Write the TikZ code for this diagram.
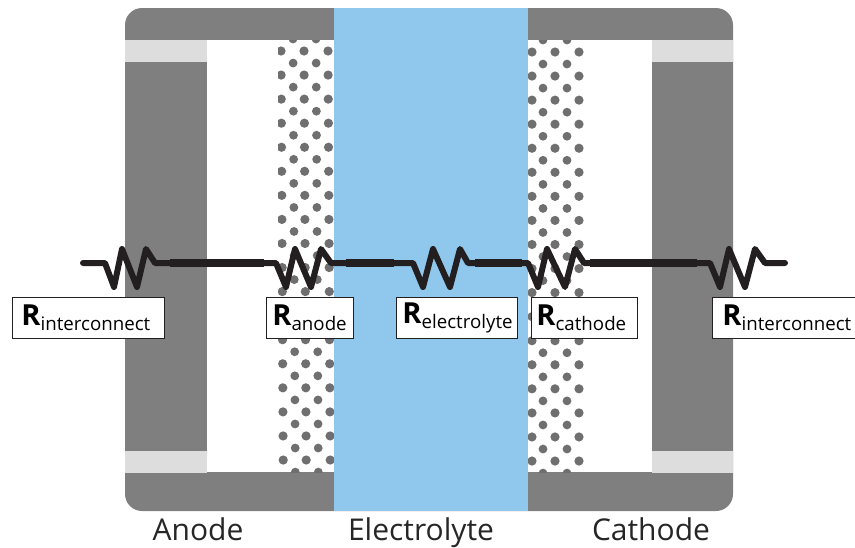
\documentclass[tikz,border=0pt]{standalone}
\usepackage{fontspec}
\setmainfont{Open Sans}
\definecolor{pillar}{HTML}{7F7F7F}
\definecolor{capgrey}{HTML}{DDDDDD}
\definecolor{elec}{HTML}{8FC8EC}
\definecolor{dotgrey}{HTML}{6F6F6F}
\definecolor{wire}{HTML}{231F20}
\tikzset{
  thin wire/.style={draw=wire,line width=6pt,line join=round,line cap=round},
  thick wire/.style={draw=wire,line width=7.5pt},
  rbox/.style={draw=wire,line width=0.9pt,fill=white,inner sep=0pt,minimum height=41pt,anchor=west},
  caption/.style={font=\fontsize{30}{30}\selectfont,text=black!85,anchor=base},
}
\newcommand{\Rlabel}[3]{\makebox[#1][l]{\hspace*{#2}\raisebox{0pt}{\fontsize{29}{29}\selectfont\bfseries R}\raisebox{-5pt}{\fontsize{18.7}{18.7}\selectfont #3}}}
\begin{document}
\begin{tikzpicture}[x=1pt,y=-1pt]
\useasboundingbox (0,0) rectangle (855,547);
% body
\fill[pillar,rounded corners=17pt] (125,8) rectangle (733,511);
\fill[white] (207,40) rectangle (652,472);
\fill[capgrey] (125,40) rectangle (207,62);
\fill[capgrey] (125,451) rectangle (207,473);
\fill[capgrey] (652,40) rectangle (733,62);
\fill[capgrey] (652,451) rectangle (733,473);
% porous electrodes
\begin{scope}
\clip (278,40) rectangle (334,472);
\foreach \k in {0,...,18}{
  \pgfmathsetmacro{\ya}{39+24.06*\k}
  \pgfmathsetmacro{\yb}{51+24.06*\k}
  \pgfmathsetmacro{\sh}{0.13*\k}
  \foreach \c in {293,316}{\fill[dotgrey] (\c+\sh,\ya) circle (4.4pt);}
  \foreach \c in {281,304,328}{\fill[dotgrey] (\c+\sh,\yb) circle (4.6pt);}
}
\end{scope}
\begin{scope}
\clip (528,40) rectangle (590,472);
\foreach \k in {0,...,18}{
  \pgfmathsetmacro{\ya}{40+24.06*\k}
  \pgfmathsetmacro{\yb}{52+24.06*\k}
  \foreach \c in {543,567}{\fill[dotgrey] (\c,\ya) circle (4.4pt);}
  \foreach \c in {532,555,579}{\fill[dotgrey] (\c,\yb) circle (4.6pt);}
}
\end{scope}
\fill[elec] (334,8) rectangle (528,511);
% wire anchors
\coordinate (w0) at (83,263);
\coordinate (a1) at (170,263);
\coordinate (b1) at (264,263);
\coordinate (a2) at (346,263);
\coordinate (b2) at (394,263);
\coordinate (a3) at (475,263);
\coordinate (b3) at (522,263);
\coordinate (a4) at (590,263);
\coordinate (b4) at (697,263);
\coordinate (a5) at (785,263);
% resistors
\draw[thin wire] (w0) -- (105,263) -- (114,287) -- (122,249) -- (137,287) -- (146,249) -- (155,263) -- (a1);
\draw[thin wire] (b1) -- (276,263) -- (286,287) -- (295,249) -- (311,287) -- (321,249) -- (331,263) -- (a2);
\draw[thin wire] (b2) -- (413,263) -- (423,287) -- (433,249) -- (450,287) -- (460,249) -- (468,263) -- (a3);
\draw[thin wire] (b3) -- (528,263) -- (538,287) -- (547,249) -- (565,287) -- (575,249) -- (584,263) -- (a4);
\draw[thin wire] (b4) -- (710,263) -- (720,287) -- (729,249) -- (745,287) -- (755,249) -- (765,263) -- (a5);
% thick links
\draw[thick wire] (a1) -- (b1);
\draw[thick wire] (a2) -- (b2);
\draw[thick wire] (a3) -- (b3);
\draw[thick wire] (a4) -- (b4);
% labels
\node[rbox] (r1) at (12,318) {\Rlabel{152pt}{9pt}{interconnect}};
\node[rbox] (r2) at (266,318) {\Rlabel{87pt}{6pt}{anode}};
\node[rbox] (r3) at (396,318) {\Rlabel{121pt}{6pt}{electrolyte}};
\node[rbox] (r4) at (531,318) {\Rlabel{106pt}{5pt}{cathode}};
\node[rbox] (r5) at (712,318) {\Rlabel{160pt}{10pt}{interconnect}};
% captions
\node[caption] (capA) at (198,540) {Anode};
\node[caption] (capE) at (421,540) {Electrolyte};
\node[caption] (capC) at (651,540) {Cathode};
\end{tikzpicture}
\end{document}
